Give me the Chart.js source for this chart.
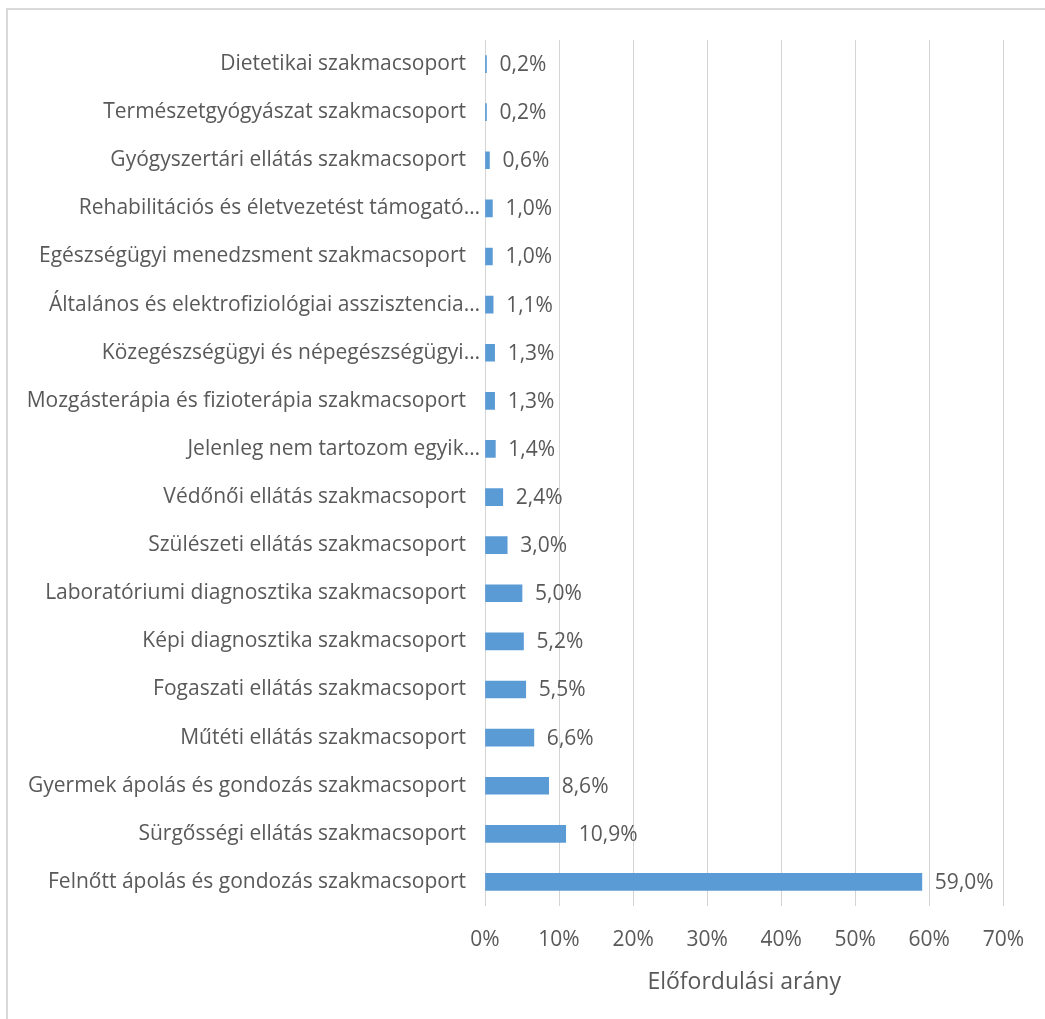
<!DOCTYPE html>
<html>
<head>
<meta charset="utf-8">
<script src="https://cdn.jsdelivr.net/npm/chart.js@4/dist/chart.umd.min.js"></script>
<style>
  html, body { margin: 0; padding: 0; background: #fff; overflow: hidden; }
  #frame {
    position: absolute; left: 6px; top: 8px; width: 1100px; height: 1100px;
    border: 2px solid #d9d9d9; box-sizing: border-box;
  }
  #wrap { position: absolute; left: 0; top: 0; width: 1045px; height: 1019px; }
</style>
</head>
<body>
<div id="frame"></div>
<div id="wrap"><canvas id="chart"></canvas></div>
<script>
// Szakmacsoportok, fentről lefelé
const categories = [
  "Dietetikai szakmacsoport",
  "Természetgyógyászat szakmacsoport",
  "Gyógyszertári ellátás szakmacsoport",
  "Rehabilitációs és életvezetést támogató…",
  "Egészségügyi menedzsment szakmacsoport",
  "Általános és elektrofiziológiai asszisztencia…",
  "Közegészségügyi és népegészségügyi…",
  "Mozgásterápia és fizioterápia szakmacsoport",
  "Jelenleg nem tartozom egyik…",
  "Védőnői ellátás szakmacsoport",
  "Szülészeti ellátás szakmacsoport",
  "Laboratóriumi diagnosztika szakmacsoport",
  "Képi diagnosztika szakmacsoport",
  "Fogaszati ellátás szakmacsoport",
  "Műtéti ellátás szakmacsoport",
  "Gyermek ápolás és gondozás szakmacsoport",
  "Sürgősségi ellátás szakmacsoport",
  "Felnőtt ápolás és gondozás szakmacsoport"
];
// Előfordulási arány (%)
const shares = [0.2, 0.2, 0.6, 1.0, 1.0, 1.1, 1.3, 1.3, 1.4, 2.4, 3.0, 5.0, 5.2, 5.5, 6.6, 8.6, 10.9, 59.0];
const axisTicks = [0, 10, 20, 30, 40, 50, 60, 70];
const axisTitle = "Előfordulási arány";

const GREY = '#595959';
const FONT = 'Open Sans';

const fmt = v => v.toFixed(1).replace('.', ',') + '%';

// value labels just past the end of each bar
const barValues = {
  id: 'barValues',
  afterDatasetsDraw(chart) {
    const ctx = chart.ctx;
    const meta = chart.getDatasetMeta(0);
    ctx.save();
    ctx.font = '21px "' + FONT + '"';
    ctx.fillStyle = GREY;
    ctx.textAlign = 'left';
    ctx.textBaseline = 'middle';
    meta.data.forEach((bar, i) => {
      ctx.fillText(fmt(shares[i]), bar.x + 13, bar.y + 1);
    });
    ctx.restore();
  }
};

new Chart(document.getElementById('chart'), {
  type: 'bar',
  data: {
    labels: categories,
    datasets: [{
      data: shares,
      backgroundColor: '#5b9bd5',
      barThickness: 17
    }]
  },
  options: {
    indexAxis: 'y',
    responsive: true,
    maintainAspectRatio: false,
    animation: false,
    layout: { padding: { top: 40, right: 41, bottom: 0, left: 0 } },
    plugins: {
      legend: { display: false },
      tooltip: { enabled: false }
    },
    scales: {
      x: {
        min: 0,
        max: 70,
        afterBuildTicks: s => { s.ticks = axisTicks.map(v => ({ value: v })); },
        afterFit: s => { s.height = 113; },
        grid: { color: '#d4d4d4', lineWidth: 1, drawTicks: false },
        border: { display: false },
        ticks: {
          padding: 21,
          color: GREY,
          font: { family: FONT, size: 21 },
          callback: v => v + '%'
        },
        title: {
          display: true,
          text: axisTitle,
          color: GREY,
          font: { family: FONT, size: 23 },
          padding: { top: 0, bottom: 23 }
        }
      },
      y: {
        afterFit: s => { s.width = 485; },
        grid: { display: false },
        border: { display: false },
        ticks: {
          padding: -3,
          color: GREY,
          font: { family: FONT, size: 21 },
          autoSkip: false,
          // full names sit a little further from the axis than truncated ones
          callback: function (v) {
            const l = this.getLabelForValue(v);
            return l.endsWith('…') ? l : l + '\u2002\u2009';
          }
        }
      }
    }
  },
  plugins: [barValues]
});
</script>
</body>
</html>
